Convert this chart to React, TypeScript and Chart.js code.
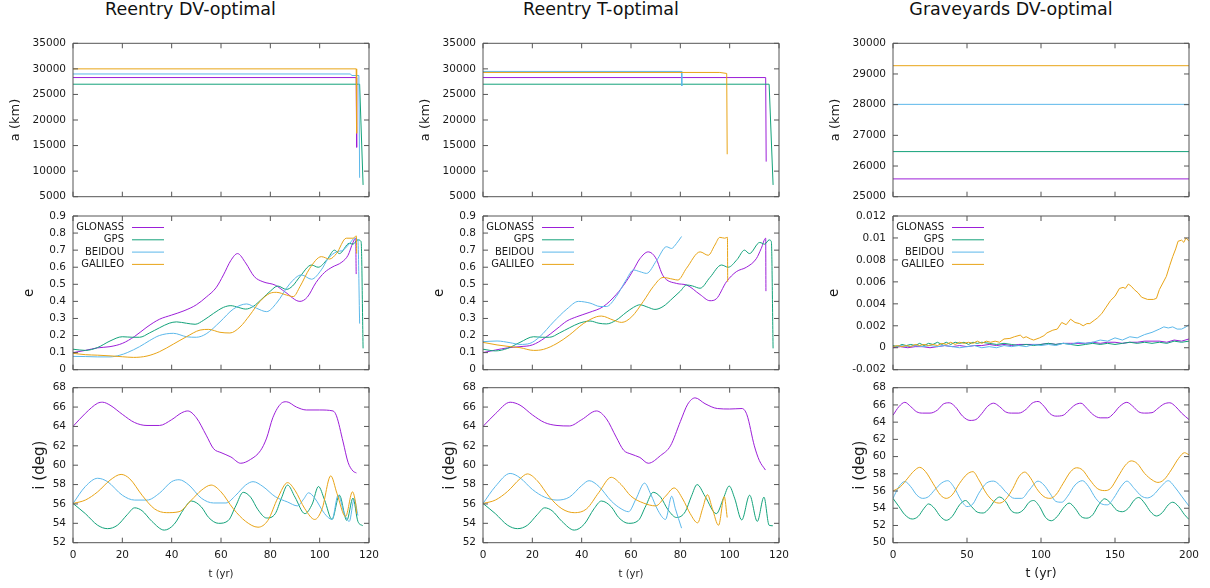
import React, { useEffect, useRef } from 'react';
import { Chart, registerables } from 'chart.js';

Chart.register(...registerables);

type Series = [number, number][];

const SYSTEMS = ['GLONASS', 'GPS', 'BEIDOU', 'GALILEO'];
const COLORS = ['#9c1fd8', '#13a27a', '#5cb8ea', '#e8a417'];
const PANEL_TITLES = ['Reentry DV-optimal', 'Reentry T-optimal', 'Graveyards DV-optimal'];
const Y_LABELS = ['a (km)', 'e', 'i (deg)'];
const X_LABEL = 't (yr)';

// ---------- Reentry DV-optimal ----------
const DV_A_GLONASS: Series = [[0, 28300], [114.8, 28300], [115, 14650]];
const DV_A_GPS: Series = [[0, 27000], [116.2, 27000], [117.6, 7300]];
const DV_A_BEIDOU: Series = [[0, 29000], [112.5, 29000], [113, 28700], [115.9, 28700], [116.2, 8700]];
const DV_A_GALILEO: Series = [[0, 30000], [114.8, 30000], [115, 17400]];

const DV_E_GLONASS: Series = [[0, 0.10], [5, 0.113], [10, 0.128], [15, 0.135], [20, 0.154], [25, 0.195], [30, 0.25], [35, 0.295], [40, 0.32], [45, 0.345], [50, 0.38], [54, 0.425], [58, 0.48], [61, 0.555], [64, 0.64], [66.7, 0.68], [70, 0.625], [73.5, 0.545], [77, 0.515], [82, 0.495], [86, 0.455], [92, 0.40], [95, 0.425], [98.5, 0.51], [102, 0.57], [105, 0.60], [109, 0.63], [111.5, 0.67], [113.5, 0.745], [114.6, 0.77], [114.8, 0.56]];
const DV_E_GPS: Series = [[0, 0.12], [5, 0.113], [10, 0.13], [15, 0.168], [20, 0.193], [24, 0.19], [27, 0.19], [31, 0.215], [35, 0.245], [39, 0.272], [42, 0.28], [46, 0.272], [49.5, 0.266], [53, 0.29], [57, 0.33], [61, 0.365], [64, 0.375], [67, 0.365], [70, 0.355], [73, 0.37], [77, 0.42], [80, 0.46], [83, 0.49], [86.5, 0.47], [89, 0.49], [92, 0.545], [96.7, 0.613], [99.4, 0.60], [103, 0.645], [106, 0.70], [108, 0.68], [112, 0.74], [113.5, 0.735], [115.5, 0.76], [116.8, 0.75], [117.6, 0.125]];
const DV_E_BEIDOU: Series = [[0, 0.078], [5, 0.077], [10, 0.075], [15, 0.075], [19, 0.085], [22, 0.10], [27, 0.135], [31, 0.17], [35, 0.2], [40.7, 0.213], [46, 0.193], [50, 0.19], [54, 0.21], [59.6, 0.28], [65, 0.355], [70.4, 0.385], [74.4, 0.36], [78.5, 0.34], [82.5, 0.39], [88, 0.505], [92.6, 0.555], [96.7, 0.53], [100.7, 0.585], [103.4, 0.65], [106.8, 0.69], [109.5, 0.70], [112.2, 0.74], [114.2, 0.77], [115.5, 0.76], [116.2, 0.27]];
const DV_E_GALILEO: Series = [[0, 0.096], [5, 0.088], [10, 0.085], [15, 0.081], [20, 0.076], [24.5, 0.072], [30, 0.08], [35, 0.105], [40.7, 0.15], [46, 0.193], [51.5, 0.232], [55, 0.236], [59.6, 0.219], [63.6, 0.215], [67.7, 0.25], [71.7, 0.32], [75.8, 0.40], [79.8, 0.447], [82.5, 0.453], [86.6, 0.437], [89.3, 0.428], [92, 0.486], [96, 0.594], [100.7, 0.662], [104, 0.648], [106.8, 0.68], [110.8, 0.77], [113.5, 0.77], [114.9, 0.783], [115, 0.68]];

const DV_I_GLONASS: Series = [[0, 64], [5, 65.35], [10, 66.4], [12, 66.5], [15, 66.2], [20, 65.25], [25, 64.4], [30, 64.1], [35, 64.1], [40, 64.7], [44, 65.4], [46.5, 65.6], [50, 64.9], [54, 63.1], [57, 61.7], [60, 61.3], [64, 60.85], [68, 60.2], [72, 60.6], [76, 61.5], [78.5, 62.8], [81, 64.9], [84.5, 66.4], [86.5, 66.55], [90.6, 66.0], [94.6, 65.7], [100, 65.7], [105.4, 65.6], [106.8, 65.1], [109.5, 62.4], [111.5, 60.3], [113.5, 59.4], [114.9, 59.2]];
const DV_I_GPS: Series = [[0, 56.05], [5, 55.0], [10, 53.8], [14, 53.45], [18, 53.8], [22, 54.9], [25, 55.6], [28, 55.3], [32, 54.2], [37, 53.3], [41, 53.9], [45, 55.5], [48, 56.3], [52, 55.7], [55, 54.6], [59, 54.0], [63, 54.3], [66, 55.8], [69, 57.2], [72, 56.7], [75, 55.4], [78.5, 54.55], [82, 55.0], [84.5, 56.6], [87, 57.95], [90, 56.7], [94, 55.0], [97, 56.0], [99.5, 57.8], [102, 56.4], [105, 54.4], [108, 56.9], [111, 54.3], [113.5, 56.6], [115.5, 54.2], [117.5, 53.75]];
const DV_I_BEIDOU: Series = [[0, 56.05], [5, 57.8], [10, 58.65], [14, 58.3], [20, 56.9], [25, 56.4], [30, 56.4], [35, 57.1], [40, 58.3], [43, 58.5], [47, 57.95], [52, 56.6], [57, 56.1], [62, 56.1], [66, 56.9], [70, 57.95], [73, 58.3], [77, 57.8], [82, 56.75], [87, 56.2], [91, 55.8], [93.5, 56.5], [95.5, 57.15], [98, 56.6], [102, 55.0], [105, 54.4], [107.5, 56.9], [110, 55.0], [112, 54.2], [114, 56.5], [115.5, 54.8]];
const DV_I_GALILEO: Series = [[0, 56.05], [5, 56.4], [10, 57.25], [15, 58.45], [19.5, 59.05], [23, 58.6], [28, 56.9], [33, 55.5], [38, 55.1], [43, 55.2], [48, 56.4], [52, 57.4], [56, 57.95], [60, 57.25], [65, 55.5], [70, 54.2], [75, 53.6], [79, 54.3], [83, 56.6], [87, 58.2], [90, 57.4], [94, 55.5], [98, 54.4], [101, 55.5], [104.5, 58.9], [107, 57.1], [110.5, 54.7], [113.3, 57.25], [114.6, 56.0], [115, 55.0]];

// ---------- Reentry T-optimal ----------
const TO_A_GLONASS: Series = [[0, 28300], [114.6, 28300], [114.8, 11860]];
const TO_A_GPS: Series = [[0, 27000], [116, 27000], [117.6, 7300]];
const TO_A_BEIDOU: Series = [[0, 29500], [80.5, 29500], [80.6, 26650]];
const TO_A_GALILEO: Series = [[0, 29300], [96, 29300], [98.8, 29100], [99, 13300]];

const TO_E_GLONASS: Series = [[0, 0.10], [5, 0.115], [10, 0.128], [15, 0.135], [20, 0.145], [25, 0.185], [30, 0.24], [34, 0.285], [38, 0.31], [43, 0.335], [48.8, 0.37], [54, 0.44], [58, 0.515], [61, 0.585], [63.6, 0.65], [67, 0.69], [70, 0.655], [73, 0.55], [78.5, 0.505], [82.5, 0.496], [88, 0.44], [92, 0.404], [94.6, 0.415], [98.7, 0.515], [102.7, 0.574], [106.8, 0.60], [110.8, 0.65], [112.8, 0.71], [114.6, 0.77], [114.7, 0.46]];
const TO_E_GPS: Series = [[0, 0.12], [5, 0.11], [10, 0.125], [15, 0.16], [20.5, 0.193], [24, 0.19], [27, 0.19], [31, 0.215], [35, 0.245], [39, 0.272], [43.4, 0.285], [47, 0.272], [50, 0.268], [54, 0.29], [58, 0.335], [61, 0.365], [63.6, 0.38], [67, 0.365], [69.7, 0.353], [73, 0.37], [77, 0.42], [80, 0.46], [82.5, 0.496], [85, 0.49], [88, 0.477], [92, 0.54], [96.7, 0.613], [99.4, 0.60], [103, 0.645], [106, 0.70], [108, 0.68], [112.2, 0.745], [114.2, 0.735], [116, 0.76], [116.9, 0.75], [117.6, 0.125]];
const TO_E_BEIDOU: Series = [[0, 0.164], [5.7, 0.168], [11, 0.158], [15, 0.148], [19, 0.154], [23, 0.193], [28.6, 0.28], [34, 0.355], [38.7, 0.40], [43.4, 0.39], [47.5, 0.37], [50, 0.37], [54, 0.428], [58, 0.525], [61, 0.584], [63.6, 0.574], [66.3, 0.564], [70.4, 0.64], [74.4, 0.72], [76.4, 0.71], [78.5, 0.74], [80.5, 0.78]];
const TO_E_GALILEO: Series = [[0, 0.16], [5.7, 0.145], [11, 0.135], [15, 0.129], [20.5, 0.113], [24.5, 0.119], [30, 0.154], [35, 0.203], [40.7, 0.27], [46, 0.31], [48, 0.314], [52.9, 0.29], [56.2, 0.277], [60.3, 0.31], [65, 0.40], [69, 0.486], [73, 0.54], [77, 0.53], [79, 0.525], [82.5, 0.594], [88, 0.69], [91.3, 0.67], [94, 0.73], [96, 0.775], [98, 0.77], [99.1, 0.775], [99.2, 0.515]];

const TO_I_GLONASS: Series = [[0, 64], [5, 65.3], [11, 66.5], [15, 66.2], [20, 65.2], [25, 64.4], [30, 64.1], [35, 64.05], [40, 64.7], [46, 65.6], [50, 64.8], [54, 62.9], [57, 61.55], [60, 61.15], [63.6, 60.8], [67, 60.2], [72, 61.0], [76, 62.0], [80, 64.5], [83, 66.3], [86, 66.95], [90, 66.35], [95, 65.85], [100, 65.8], [105, 65.85], [107, 65.2], [110, 62.0], [112, 60.5], [114.5, 59.5]];
const TO_I_GPS: Series = [[0, 56.05], [5, 55.0], [10, 53.8], [14, 53.45], [18, 53.8], [22, 54.9], [25, 55.6], [28, 55.3], [32, 54.2], [37, 53.3], [41, 53.9], [45, 55.5], [48, 56.3], [52, 55.7], [55, 54.6], [59, 54.0], [63, 54.3], [66, 55.8], [69, 57.2], [72, 56.7], [75, 55.4], [78.5, 54.6], [82, 55.2], [84.5, 56.8], [86.8, 58.0], [90, 56.8], [94.6, 55.0], [97.5, 56.6], [99.8, 57.85], [102, 56.6], [104.9, 54.35], [108.1, 56.9], [111.2, 54.2], [113.9, 56.7], [116, 53.8], [117.5, 53.75]];
const TO_I_BEIDOU: Series = [[0, 56.05], [5, 57.8], [11, 59.15], [15, 58.7], [20, 57.5], [25, 56.7], [30, 56.4], [35, 56.7], [40, 57.9], [43, 58.4], [47, 57.8], [52, 56.3], [56, 55.5], [59, 55.2], [62, 56.5], [65.5, 58.15], [68, 57.0], [71, 55.3], [74, 54.4], [76.5, 56.8], [78, 55.5], [80.5, 53.5]];
const TO_I_GALILEO: Series = [[0, 56.05], [5, 56.4], [10, 57.3], [15, 58.6], [18, 59.1], [22, 58.4], [27, 56.7], [32, 55.5], [37, 55.1], [42, 55.5], [47, 57.2], [52, 58.75], [56, 58.0], [60, 56.8], [65, 56.1], [70, 55.8], [74, 56.8], [77.5, 57.65], [81, 56.5], [84, 55.0], [87, 54.05], [89, 55.5], [91, 56.95], [93, 55.5], [95.5, 53.8], [97.8, 56.75], [99, 54.6]];

// ---------- Graveyards DV-optimal ----------
const GY_A_GLONASS: Series = [[0, 25580], [200, 25580]];
const GY_A_GPS: Series = [[0, 26470], [200, 26470]];
const GY_A_BEIDOU: Series = [[0, 28010], [200, 28010]];
const GY_A_GALILEO: Series = [[0, 29270], [200, 29270]];

const GY_E_GLONASS: Series = [[0, 0.0000], [5, 0.0001], [10, 0.0000], [15, 0.0001], [20, 0.0001], [25, 0.0000], [30, 0.0001], [35, 0.0002], [40, 0.0001], [45, 0.0002], [50, 0.0001], [55, 0.0002], [60, 0.0002], [65, 0.0003], [70, 0.0002], [75, 0.0003], [80, 0.0002], [85, 0.0003], [90, 0.0003], [95, 0.0003], [100, 0.0003], [105, 0.0004], [110, 0.0003], [115, 0.0004], [120, 0.0004], [125, 0.0004], [130, 0.0004], [135, 0.0005], [140, 0.0004], [145, 0.0005], [150, 0.0005], [155, 0.0004], [160, 0.0005], [165, 0.0005], [170, 0.0006], [175, 0.0006], [180, 0.0006], [185, 0.0005], [190, 0.0007], [195, 0.0006], [200, 0.0008]];
const GY_E_GPS: Series = [[0, 0.0002], [3, 0.0001], [6, 0.0003], [9, 0.0002], [12, 0.0003], [15, 0.0002], [18, 0.0004], [21, 0.0002], [24, 0.0004], [27, 0.0003], [30, 0.0005], [33, 0.0003], [36, 0.0005], [39, 0.0003], [42, 0.0005], [45, 0.0004], [48, 0.0005], [51, 0.0003], [54, 0.0005], [57, 0.0004], [60, 0.0005], [65, 0.0004], [70, 0.0003], [75, 0.0004], [80, 0.0003], [85, 0.0002], [90, 0.0003], [95, 0.0002], [100, 0.0003], [105, 0.0004], [110, 0.0003], [115, 0.0004], [120, 0.0003], [125, 0.0002], [130, 0.0003], [135, 0.0004], [140, 0.0003], [145, 0.0004], [150, 0.0003], [155, 0.0004], [160, 0.0005], [165, 0.0004], [170, 0.0005], [175, 0.0004], [180, 0.0005], [185, 0.0004], [190, 0.0006], [195, 0.0005], [200, 0.0006]];
const GY_E_BEIDOU: Series = [[0, 0.0001], [5, 0.0002], [10, 0.0001], [15, 0.0002], [20, 0.0001], [25, 0.0002], [30, 0.0001], [35, 0.0002], [40, 0.0001], [45, 0.0000], [50, 0.0001], [55, 0.0002], [60, 0.0000], [65, 0.0001], [70, 0.0000], [75, 0.0002], [80, 0.0001], [85, 0.0002], [90, 0.0001], [95, 0.0003], [100, 0.0002], [105, 0.0003], [110, 0.0002], [115, 0.0004], [120, 0.0003], [125, 0.0005], [130, 0.0004], [135, 0.0005], [140, 0.0007], [145, 0.0006], [150, 0.0009], [155, 0.0007], [160, 0.0010], [165, 0.0009], [170, 0.0012], [175, 0.0014], [180, 0.0017], [183, 0.0019], [186, 0.0018], [189, 0.0019], [192, 0.0017], [195, 0.0017], [198, 0.0019], [200, 0.0021]];
const GY_E_GALILEO: Series = [[0, 0.0001], [3, 0.0002], [6, 0.0001], [9, 0.0002], [12, 0.0001], [15, 0.0003], [18, 0.0002], [21, 0.0003], [24, 0.0002], [27, 0.0003], [30, 0.0002], [33, 0.0004], [36, 0.0003], [39, 0.0005], [42, 0.0003], [45, 0.0005], [48, 0.0004], [51, 0.0005], [54, 0.0004], [57, 0.0006], [60, 0.0004], [63, 0.0006], [66, 0.0005], [69, 0.0006], [72, 0.0005], [75, 0.0008], [79, 0.00085], [82, 0.0010], [86, 0.00115], [88, 0.0009], [90, 0.0010], [93, 0.0008], [95, 0.0007], [99, 0.0009], [102, 0.0011], [104, 0.00135], [108, 0.0016], [111, 0.0017], [114, 0.0023], [117, 0.0021], [120, 0.0026], [123, 0.0023], [126, 0.0022], [128.5, 0.0020], [131, 0.0022], [133, 0.0022], [136, 0.0025], [138, 0.0027], [141, 0.0031], [144, 0.0037], [147, 0.0043], [150, 0.0047], [153, 0.0054], [155.5, 0.0055], [157, 0.0054], [159, 0.0058], [161, 0.0056], [163, 0.0053], [165.6, 0.0050], [168, 0.0046], [172, 0.0044], [176, 0.0044], [178, 0.0045], [180, 0.0053], [184.7, 0.0065], [187, 0.0075], [189, 0.0083], [191, 0.0090], [192.6, 0.0097], [195, 0.0098], [196.5, 0.0096], [198, 0.0100], [200, 0.0097]];

const GY_I_GLONASS: Series = [[0, 64.8], [4, 65.8], [8, 66.3], [12, 65.8], [16, 65.2], [20, 65.05], [25, 65.05], [30, 65.4], [34, 66.1], [38, 66.25], [42, 65.8], [47, 64.7], [52, 64.2], [56, 64.3], [60, 65.0], [64, 65.85], [68, 66.2], [72, 65.8], [76, 65.2], [80, 65.05], [85, 65.05], [90, 65.5], [94, 66.2], [98, 66.4], [102, 65.85], [106, 65.0], [110, 64.7], [115, 64.8], [119, 65.4], [123, 66.0], [127, 66.2], [131, 65.6], [135, 64.9], [140, 64.5], [145, 64.5], [149, 65.0], [153, 65.8], [158, 66.3], [162, 65.85], [166, 65.2], [170, 65.05], [175, 65.1], [179, 65.6], [183, 66.1], [187, 66.25], [191, 65.8], [195, 65.05], [200, 64.3]];
const GY_I_GPS: Series = [[0, 55.15], [4, 54.2], [8, 53.25], [13, 52.75], [17, 53.05], [21, 54.0], [24, 54.5], [28, 54.0], [32, 53.05], [36, 52.6], [40, 53.05], [45, 54.4], [49, 54.9], [53, 54.2], [57, 53.55], [61, 53.45], [65, 54.0], [69, 54.95], [72, 55.3], [76, 54.8], [80, 53.7], [84, 53.45], [88, 53.8], [92, 54.7], [95, 54.9], [99, 54.2], [103, 52.95], [107, 52.55], [111, 53.05], [115, 54.0], [119, 54.6], [123, 54.0], [127, 53.05], [131, 52.85], [135, 53.25], [139, 54.4], [143, 55.1], [147, 54.6], [151, 53.8], [155, 53.6], [159, 54.0], [163, 54.95], [166, 55.25], [170, 54.6], [174, 53.6], [178, 53.1], [182, 53.5], [186, 54.4], [189, 54.7], [193, 54.2], [197, 53.25], [200, 52.7]];
const GY_I_BEIDOU: Series = [[0, 55.15], [4, 56.5], [8, 57.1], [12, 56.5], [16, 55.55], [20, 55.15], [24, 55.35], [28, 56.1], [33, 56.95], [37, 57.2], [41, 56.5], [46, 54.95], [50, 54.2], [54, 54.5], [58, 55.75], [63, 56.9], [68, 57.15], [72, 56.7], [77, 55.75], [82, 55.15], [87, 55.15], [92, 56.1], [98, 57.15], [102, 56.7], [106, 55.75], [110, 54.8], [114, 54.7], [118, 55.4], [123, 56.7], [128, 57.2], [132, 56.55], [137, 55.15], [141, 54.5], [145, 54.4], [149, 55.15], [154, 56.5], [158, 57.15], [163, 56.3], [168, 55.4], [172, 55.2], [176, 55.55], [181, 56.5], [186, 57.2], [190, 56.55], [195, 55.4], [200, 54.25]];
const GY_I_GALILEO: Series = [[0, 56.0], [5, 56.5], [10, 57.5], [14, 58.3], [18, 58.75], [22, 58.25], [27, 56.9], [32, 55.55], [36, 55.15], [40, 55.55], [45, 56.9], [50, 57.95], [54, 58.25], [58, 57.3], [63, 55.75], [68, 54.8], [72, 54.6], [76, 55.0], [81, 56.3], [85, 57.65], [89, 58.2], [93, 57.5], [97, 56.3], [102, 55.35], [106, 55.15], [110, 55.55], [115, 56.9], [120, 58.25], [124, 58.7], [128, 58.45], [133, 57.3], [138, 56.3], [143, 56.05], [147, 56.3], [152, 57.65], [157, 59.0], [161, 59.5], [165, 59.2], [170, 58.05], [175, 57.3], [179, 57.0], [183, 57.3], [188, 58.45], [193, 59.8], [197, 60.45], [200, 60.2]];

// ---------- axis ranges ----------
const X_RANGES = [[0, 120, 20], [0, 120, 20], [0, 200, 50]];
const Y_RANGES = [
  [[5000, 35000, 5000], [5000, 35000, 5000], [25000, 30000, 1000]],
  [[0, 0.9, 0.1], [0, 0.9, 0.1], [-0.002, 0.012, 0.002]],
  [[52, 68, 2], [52, 68, 2], [50, 68, 2]],
];

const DATA: Series[][][] = [
  [
    [DV_A_GLONASS, DV_A_GPS, DV_A_BEIDOU, DV_A_GALILEO],
    [TO_A_GLONASS, TO_A_GPS, TO_A_BEIDOU, TO_A_GALILEO],
    [GY_A_GLONASS, GY_A_GPS, GY_A_BEIDOU, GY_A_GALILEO],
  ],
  [
    [DV_E_GLONASS, DV_E_GPS, DV_E_BEIDOU, DV_E_GALILEO],
    [TO_E_GLONASS, TO_E_GPS, TO_E_BEIDOU, TO_E_GALILEO],
    [GY_E_GLONASS, GY_E_GPS, GY_E_BEIDOU, GY_E_GALILEO],
  ],
  [
    [DV_I_GLONASS, DV_I_GPS, DV_I_BEIDOU, DV_I_GALILEO],
    [TO_I_GLONASS, TO_I_GPS, TO_I_BEIDOU, TO_I_GALILEO],
    [GY_I_GLONASS, GY_I_GPS, GY_I_BEIDOU, GY_I_GALILEO],
  ],
];

// ---------- layout (page pixels) ----------
const FONT = '"DejaVu Sans", "Liberation Sans", sans-serif';
const CANVAS_W = 382;
const COL_GEOM = [
  { cx: 0, L: 73, R: 369, titleC: 190.5 },
  { cx: 410, L: 483, R: 779, titleC: 601 },
  { cx: 820, L: 893, R: 1189, titleC: 1011 },
];
const ROW_GEOM = [
  { cy: 25, ch: 180, T: 43.3, B: 196.7 },
  { cy: 205, ch: 175, T: 216, B: 369.7 },
  { cy: 380, ch: 208, T: 387.7, B: 542.7 },
];
const Y_TITLE_X = [[16, 16, 16], [29, 29, 14], [40, 40, 40]];
const Y_TITLE_SIZE = [13, 13.5, 15];
const X_TITLE_SIZE = [10, 10, 12.5];
const TICK_SIZE = 10.5;

const fmt = (v: number | string) => String(+(+v).toFixed(6));

function PanelChart({ row, col }: { row: number; col: number }) {
  const ref = useRef<HTMLCanvasElement | null>(null);
  const cg = COL_GEOM[col];
  const rg = ROW_GEOM[row];

  useEffect(() => {
    if (!ref.current) return;
    const [xMin, xMax, xStep] = X_RANGES[col];
    const [yMin, yMax, yStep] = Y_RANGES[row][col];
    const yW = cg.L - cg.cx;
    const xH = rg.cy + rg.ch - rg.B;
    const padTop = rg.T - rg.cy;
    const padRight = cg.cx + CANVAS_W - cg.R;
    const smooth = !(row === 0 || (row === 1 && col === 2));
    const ySize = Y_TITLE_SIZE[row];
    const xSize = X_TITLE_SIZE[col];

    const frame = {
      id: 'gnuFrame',
      afterDatasetsDraw(chart: any) {
        const { ctx, chartArea: a, scales } = chart;
        const xs = scales.x;
        const ys = scales.y;
        ctx.save();
        ctx.strokeStyle = '#555';
        ctx.lineWidth = 1;
        ctx.beginPath();
        ctx.rect(a.left, a.top, a.right - a.left, a.bottom - a.top);
        for (const t of xs.ticks) {
          const px = xs.getPixelForValue(t.value);
          ctx.moveTo(px, a.bottom);
          ctx.lineTo(px, a.bottom - 5);
          ctx.moveTo(px, a.top);
          ctx.lineTo(px, a.top + 5);
        }
        for (const t of ys.ticks) {
          const py = ys.getPixelForValue(t.value);
          ctx.moveTo(a.left, py);
          ctx.lineTo(a.left + 5, py);
          ctx.moveTo(a.right, py);
          ctx.lineTo(a.right - 5, py);
        }
        ctx.stroke();

        if (row === 1) {
          ctx.font = `10px ${FONT}`;
          ctx.textAlign = 'right';
          ctx.textBaseline = 'middle';
          SYSTEMS.forEach((name, i) => {
            const y = a.top + 11.5 + i * 12.3;
            ctx.fillStyle = '#1a1a1a';
            ctx.fillText(name, a.left + 51, y);
            ctx.strokeStyle = COLORS[i];
            ctx.lineWidth = 1;
            ctx.beginPath();
            ctx.moveTo(a.left + 59, y);
            ctx.lineTo(a.left + 91, y);
            ctx.stroke();
          });
        }
        ctx.restore();
      },
    };

    const seriesList = DATA[row][col];
    const datasets = SYSTEMS.map((name, i) => ({
      label: name,
      data: seriesList[i].map(([x, y]) => ({ x, y })),
      borderColor: COLORS[i],
      backgroundColor: COLORS[i],
      borderWidth: 1,
      pointRadius: 0,
      fill: false,
      tension: smooth ? 0.4 : 0,
      cubicInterpolationMode: smooth ? ('monotone' as const) : ('default' as const),
      order: SYSTEMS.length - i,
    }));

    const chart = new Chart(ref.current, {
      type: 'line',
      data: { datasets },
      plugins: [frame],
      options: {
        animation: false,
        responsive: false,
        maintainAspectRatio: false,
        devicePixelRatio: 1,
        events: [],
        layout: { padding: { left: 0, right: padRight, top: padTop, bottom: 0 } },
        plugins: {
          legend: { display: false },
          tooltip: { enabled: false },
          title: { display: false },
        },
        scales: {
          x: {
            type: 'linear',
            min: xMin,
            max: xMax,
            grid: { display: false, drawTicks: false },
            border: { display: false },
            ticks: {
              display: row === 2,
              stepSize: xStep,
              autoSkip: false,
              maxRotation: 0,
              padding: 6,
              color: '#1a1a1a',
              font: { family: FONT, size: TICK_SIZE },
              callback: (v: any) => fmt(v),
            },
            title: {
              display: row === 2,
              text: X_LABEL,
              color: '#1a1a1a',
              font: { family: FONT, size: xSize },
              padding: { top: 0, bottom: 14 - xSize * 0.6 },
            },
            afterFit: (s: any) => {
              s.height = xH;
              s.paddingLeft = 0;
              s.paddingRight = 0;
            },
          },
          y: {
            type: 'linear',
            min: yMin,
            max: yMax,
            grid: { display: false, drawTicks: false },
            border: { display: false },
            ticks: {
              stepSize: yStep,
              autoSkip: false,
              padding: 7,
              color: '#1a1a1a',
              font: { family: FONT, size: TICK_SIZE },
              callback: (v: any) => fmt(v),
            },
            title: {
              display: true,
              text: Y_LABELS[row],
              color: '#1a1a1a',
              font: { family: FONT, size: ySize },
              padding: { top: Y_TITLE_X[row][col] - ySize * 0.6, bottom: 0 },
            },
            afterFit: (s: any) => {
              s.width = yW;
              s.paddingTop = 0;
              s.paddingBottom = 0;
            },
          },
        },
      } as any,
    });
    return () => chart.destroy();
  }, [row, col]);

  return (
    <canvas
      ref={ref}
      width={CANVAS_W}
      height={rg.ch}
      style={{ position: 'absolute', left: cg.cx, top: rg.cy, width: CANVAS_W, height: rg.ch }}
    />
  );
}

export default function App() {
  const panels: { row: number; col: number }[] = [];
  for (let r = 0; r < 3; r++) for (let c = 0; c < 3; c++) panels.push({ row: r, col: c });
  return (
    <div style={{ position: 'absolute', left: 0, top: 0, width: 1210, height: 588, background: '#fff', overflow: 'hidden' }}>
      {PANEL_TITLES.map((t, i) => (
        <div
          key={t}
          style={{
            position: 'absolute',
            left: COL_GEOM[i].titleC - 150,
            top: -1,
            width: 300,
            textAlign: 'center',
            fontFamily: FONT,
            fontSize: 17.5,
            lineHeight: '20px',
            color: '#111',
            whiteSpace: 'nowrap',
          }}
        >
          {t}
        </div>
      ))}
      {panels.map((p) => (
        <PanelChart key={`${p.row}-${p.col}`} row={p.row} col={p.col} />
      ))}
    </div>
  );
}
